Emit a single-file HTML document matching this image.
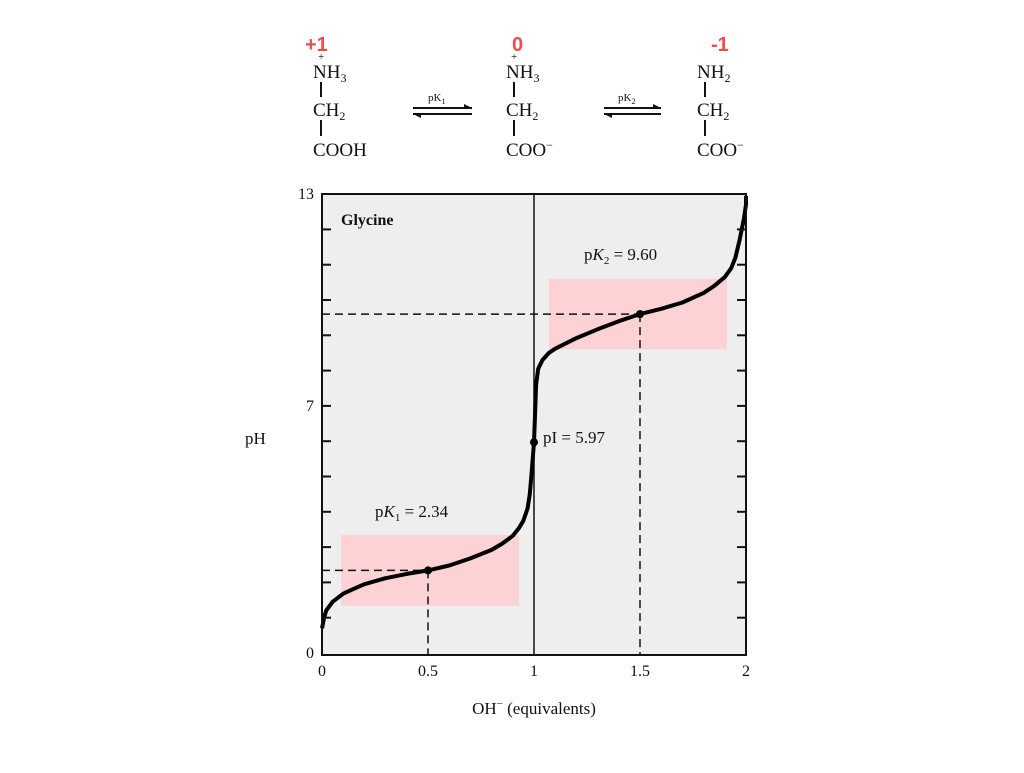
<!DOCTYPE html>
<html><head><meta charset="utf-8"><style>
body{margin:0;background:#fff;}
svg text{font-family:"Liberation Serif",serif;}
svg text.sans{font-family:"Liberation Sans",sans-serif;font-weight:bold;}
</style></head><body>
<svg width="1024" height="768">
<g font-size="19" fill="#111">
  <text class="sans" x="305" y="51" font-size="20" fill="#f24b4b">+1</text>
  <text class="sans" x="512" y="51" font-size="20" fill="#f24b4b">0</text>
  <text class="sans" x="711" y="51" font-size="20" fill="#f24b4b">-1</text>
  <g>
    <text x="313" y="78">NH<tspan font-size="12" dy="4">3</tspan></text>
    <text x="318" y="60" font-size="11">+</text>
    <line x1="321" y1="82" x2="321" y2="97" stroke="#111" stroke-width="2"/>
    <text x="313" y="116">CH<tspan font-size="12" dy="4">2</tspan></text>
    <line x1="321" y1="120" x2="321" y2="136" stroke="#111" stroke-width="2"/>
    <text x="313" y="156">COOH</text>
  </g>
  <g>
    <text x="428" y="101" font-size="11">pK<tspan font-size="8" dy="3">1</tspan></text>
    <line x1="413" y1="108" x2="472" y2="108" stroke="#111" stroke-width="2"/>
    <line x1="413" y1="114" x2="472" y2="114" stroke="#111" stroke-width="2"/>
    <polygon points="472,108 464,104 464,108" fill="#111"/>
    <polygon points="413,114 421,118 421,114" fill="#111"/>
  </g>
  <g>
    <text x="506" y="78">NH<tspan font-size="12" dy="4">3</tspan></text>
    <text x="511" y="60" font-size="11">+</text>
    <line x1="514" y1="82" x2="514" y2="97" stroke="#111" stroke-width="2"/>
    <text x="506" y="116">CH<tspan font-size="12" dy="4">2</tspan></text>
    <line x1="514" y1="120" x2="514" y2="136" stroke="#111" stroke-width="2"/>
    <text x="506" y="156">COO<tspan font-size="12" dy="-7">−</tspan></text>
  </g>
  <g>
    <text x="618" y="101" font-size="11">pK<tspan font-size="8" dy="3">2</tspan></text>
    <line x1="604" y1="108" x2="661" y2="108" stroke="#111" stroke-width="2"/>
    <line x1="604" y1="114" x2="661" y2="114" stroke="#111" stroke-width="2"/>
    <polygon points="661,108 653,104 653,108" fill="#111"/>
    <polygon points="604,114 612,118 612,114" fill="#111"/>
  </g>
  <g>
    <text x="697" y="78">NH<tspan font-size="12" dy="4">2</tspan></text>
    <line x1="705" y1="82" x2="705" y2="97" stroke="#111" stroke-width="2"/>
    <text x="697" y="116">CH<tspan font-size="12" dy="4">2</tspan></text>
    <line x1="705" y1="120" x2="705" y2="136" stroke="#111" stroke-width="2"/>
    <text x="697" y="156">COO<tspan font-size="12" dy="-7">−</tspan></text>
  </g>
</g>
<g id="chart"></g>
</svg>
<script>
const xs=[0,0.01,0.02,0.05,0.1,0.15,0.2,0.3,0.4,0.5,0.6,0.7,0.8,0.85,0.9,0.93,0.95,0.97,0.98,0.99,1.0,1.005,1.01,1.02,1.04,1.07,1.1,1.2,1.3,1.4,1.5,1.6,1.7,1.8,1.85,1.9,1.93,1.95,1.97,1.99,2.0,2.0];
const phs=[0.7,1.0,1.2,1.45,1.68,1.82,1.95,2.12,2.24,2.34,2.48,2.68,2.92,3.1,3.32,3.55,3.75,4.1,4.5,5.2,5.97,6.8,7.6,8.05,8.3,8.5,8.62,8.92,9.17,9.4,9.6,9.75,9.93,10.2,10.4,10.65,10.9,11.2,11.7,12.3,12.7,12.95];
const xTicks=[0,0.5,1,1.5,2];
const xTickLabels=["0","0.5","1","1.5","2"];
const yLabelVals=[0,7,13];
const yTickVals=[1,2,3,4,5,6,7,8,9,10,11,12];
const pKs=[2.34,9.60];
const pKx=[0.5,1.5];
const pI=5.97;
const bufferRanges=[[0.09,0.93],[1.07,1.91]];

const NS="http://www.w3.org/2000/svg";
const g=document.getElementById('chart');
const L=322,R=746,T=194,B=655;
const X=v=>L+(R-L)*v/2;
const Y=v=>653-v*35.3;
function mk(tag,a,parent){const e=document.createElementNS(NS,tag);for(const k in a)e.setAttribute(k,a[k]);(parent||g).appendChild(e);return e;}

const bg=mk('rect',{x:L,y:T,width:R-L,height:B-T,fill:'#eeeeee'});


bufferRanges.forEach((r,i)=>{
  const e=mk('rect',{x:X(r[0]),y:Y(pKs[i]+1),width:X(r[1])-X(r[0]),height:Y(pKs[i]-1)-Y(pKs[i]+1),fill:'#fdd2d5'});
  
  
});
const vl=mk('line',{x1:X(1),y1:T,x2:X(1),y2:B,stroke:'#111','stroke-width':1.5});


pKs.forEach((p,i)=>{
  const h=mk('line',{x1:L,y1:Y(p),x2:X(pKx[i]),y2:Y(p),stroke:'#111','stroke-width':1.5,'stroke-dasharray':'8,5'});
  
  
  const v=mk('line',{x1:X(pKx[i]),y1:Y(p),x2:X(pKx[i]),y2:B,stroke:'#111','stroke-width':1.5,'stroke-dasharray':'8,5'});
  
  
});
const d=xs.map((x,i)=>(i?'L':'M')+X(x).toFixed(1)+','+Y(phs[i]).toFixed(1)).join('');
const curve=mk('path',{d:d,fill:'none',stroke:'#000','stroke-width':4,'stroke-linejoin':'round'});


[[pKx[0],pKs[0]],[pKx[1],pKs[1]],[1,pI]].forEach((p,i)=>{
  const c=mk('circle',{cx:X(p[0]),cy:Y(p[1]),r:4,fill:'#000'});
  
  
});
const frame=mk('rect',{x:L,y:T,width:R-L,height:B-T,fill:'none',stroke:'#111','stroke-width':2});


yTickVals.forEach(v=>{
  const a=mk('line',{x1:L,y1:Y(v),x2:L+9,y2:Y(v),stroke:'#111','stroke-width':2});
  
  
  const b=mk('line',{x1:R-9,y1:Y(v),x2:R,y2:Y(v),stroke:'#111','stroke-width':2});
  
  
});
yLabelVals.forEach(v=>{
  const t=mk('text',{x:L-8,y:Math.max(Y(v),T)+5,'text-anchor':'end','font-size':16,fill:'#111'});
  t.textContent=String(v);
  
  
});
xTicks.forEach((v,i)=>{
  const t=mk('text',{x:X(v),y:B+21,'text-anchor':'middle','font-size':16,fill:'#111'});
  t.textContent=xTickLabels[i];
  
  
});
function label(x,y,html,name,extra){const t=mk('text',Object.assign({x:x,y:y,'font-size':17,fill:'#111'},extra||{}));t.innerHTML=html;return t;}
label(245,444,'pH','y-axis-title');
label(534,714,'OH<tspan font-size="11" dy="-7">−</tspan><tspan dy="7"> (equivalents)</tspan>','x-axis-title',{'text-anchor':'middle'});
label(341,225,'Glycine','chart-title',{'font-weight':'bold','font-size':16});
label(584,260,'p<tspan font-style="italic">K</tspan><tspan font-size="11" dy="4">2</tspan><tspan dy="-4"> = 9.60</tspan>','pk2-label');
label(375,517,'p<tspan font-style="italic">K</tspan><tspan font-size="11" dy="4">1</tspan><tspan dy="-4"> = 2.34</tspan>','pk1-label');
label(543,443,'pI = 5.97','pi-label');
</script>
</body></html>
